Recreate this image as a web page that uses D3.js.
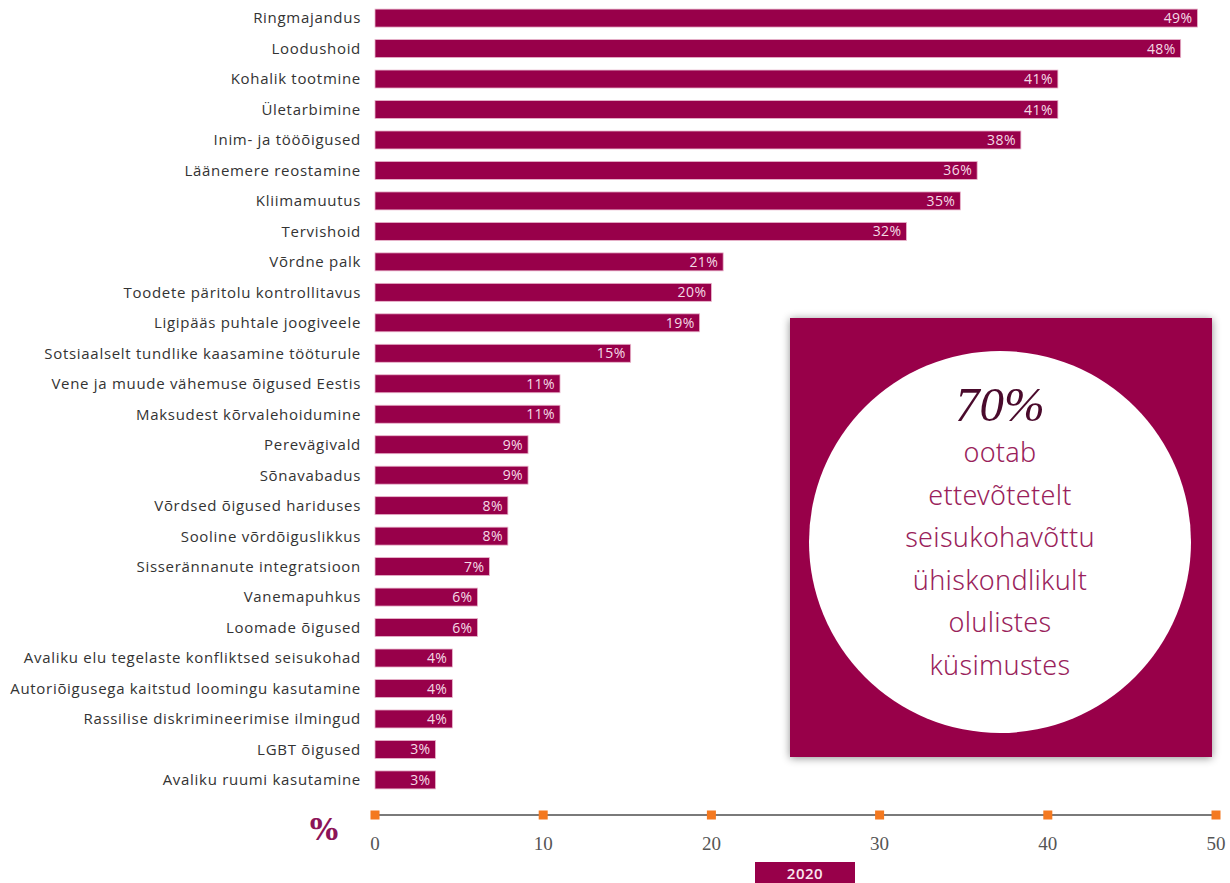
<!DOCTYPE html>
<html>
<head>
<meta charset="utf-8">
<script src="https://cdn.jsdelivr.net/npm/d3@7"></script>
<style>
  body { margin: 0; background: #fff; }
  svg { display: block; }
</style>
</head>
<body>
<div id="chart"></div>
<script>
var categories = ["Ringmajandus", "Loodushoid", "Kohalik tootmine", "Ületarbimine", "Inim- ja tööõigused",
    "Läänemere reostamine", "Kliimamuutus", "Tervishoid", "Võrdne palk", "Toodete päritolu kontrollitavus",
    "Ligipääs puhtale joogiveele", "Sotsiaalselt tundlike kaasamine tööturule", "Vene ja muude vähemuse õigused Eestis",
    "Maksudest kõrvalehoidumine", "Perevägivald", "Sõnavabadus", "Võrdsed õigused hariduses", "Sooline võrdõiguslikkus",
    "Sisserännanute integratsioon", "Vanemapuhkus", "Loomade õigused", "Avaliku elu tegelaste konfliktsed seisukohad",
    "Autoriõigusega kaitstud loomingu kasutamine", "Rassilise diskrimineerimise ilmingud", "LGBT õigused", "Avaliku ruumi kasutamine"];
var values = [48.9, 47.9, 40.6, 40.6, 38.4, 35.8, 34.8, 31.6, 20.7, 20.0, 19.3, 15.2, 11.0, 11.0, 9.1, 9.1,
    7.9, 7.9, 6.8, 6.1, 6.1, 4.6, 4.6, 4.6, 3.6, 3.6];
var valueLabels = ["49%", "48%", "41%", "41%", "38%", "36%", "35%", "32%", "21%", "20%", "19%", "15%", "11%", "11%",
    "9%", "9%", "8%", "8%", "7%", "6%", "6%", "4%", "4%", "4%", "3%", "3%"];
var tickValues = [0, 10, 20, 30, 40, 50];
var seriesName = "2020";
var calloutBig = "70%";
var calloutLines = ["ootab", "ettevõtetelt", "seisukohavõttu", "ühiskondlikult", "olulistes", "küsimustes"];

var W = 1230, H = 883;
var purple = "#98004a";

var svg = d3.select("#chart").append("svg")
    .attr("width", W)
    .attr("height", H);

var defs = svg.append("defs");
var shadow = defs.append("filter").attr("id", "shadow")
    .attr("x", "-10%").attr("y", "-10%").attr("width", "120%").attr("height", "120%");
shadow.append("feDropShadow")
    .attr("dx", 0).attr("dy", 1).attr("stdDeviation", 4)
    .attr("flood-color", "#000").attr("flood-opacity", 0.45);

var x = d3.scaleLinear().domain([0, 50]).range([375, 1216]);
var y = d3.scaleBand()
    .domain(categories)
    .range([3, 795])
    .paddingInner(0.41)
    .paddingOuter(0.2);

// bars
svg.selectAll(".bar")
    .data(values)
    .enter().append("rect")
    .attr("class", "bar")
    .attr("x", x(0))
    .attr("y", function (d, i) { return y(categories[i]); })
    .attr("width", function (d) { return x(d) - x(0); })
    .attr("height", y.bandwidth())
    .attr("fill", purple)
    .attr("stroke", "#e9b6cc")
    .attr("stroke-width", 0.8);

// value labels inside bars
svg.selectAll(".value")
    .data(values)
    .enter().append("text")
    .attr("class", "value")
    .attr("x", function (d) { return x(d) - 5; })
    .attr("y", function (d, i) { return y(categories[i]) + y.bandwidth() / 2; })
    .attr("dy", "0.36em")
    .attr("text-anchor", "end")
    .attr("font-family", "'Open Sans', sans-serif")
    .attr("font-size", 14)
    .attr("letter-spacing", 0.4)
    .attr("fill", "#f4dbe6")
    .text(function (d, i) { return valueLabels[i]; });

// category names
svg.selectAll(".name")
    .data(categories)
    .enter().append("text")
    .attr("class", "name")
    .attr("x", 361)
    .attr("y", function (d) { return y(d) + y.bandwidth() / 2; })
    .attr("dy", "0.36em")
    .attr("text-anchor", "end")
    .attr("font-family", "'Open Sans', sans-serif")
    .attr("font-size", 15)
    .attr("letter-spacing", 0.7)
    .attr("fill", "#333")
    .text(function (d) { return d; });

// x axis
var axisY = 815;
svg.append("line")
    .attr("x1", x(0)).attr("x2", x(50))
    .attr("y1", axisY).attr("y2", axisY)
    .attr("stroke", "#7a7a7a")
    .attr("stroke-width", 2);

svg.selectAll(".tickmark")
    .data(tickValues)
    .enter().append("rect")
    .attr("class", "tickmark")
    .attr("x", function (d) { return x(d) - 4.5; })
    .attr("y", axisY - 4.5)
    .attr("width", 9)
    .attr("height", 9)
    .attr("fill", "#f47920");

svg.selectAll(".ticklabel")
    .data(tickValues)
    .enter().append("text")
    .attr("class", "ticklabel")
    .attr("x", function (d) { return x(d); })
    .attr("y", 850)
    .attr("text-anchor", "middle")
    .attr("font-family", "'Liberation Serif', serif")
    .attr("font-size", 19)
    .attr("fill", "#555")
    .text(function (d) { return d; });

svg.append("text")
    .attr("x", 324)
    .attr("y", 840)
    .attr("text-anchor", "middle")
    .attr("font-family", "'DejaVu Serif', serif")
    .attr("font-weight", "bold")
    .attr("font-size", 30)
    .attr("fill", "#8c1458")
    .text("%");

// legend
svg.append("rect")
    .attr("x", 755).attr("y", 862)
    .attr("width", 100).attr("height", 24)
    .attr("fill", purple);
svg.append("text")
    .attr("x", 805).attr("y", 874)
    .attr("dy", "0.36em")
    .attr("text-anchor", "middle")
    .attr("font-family", "'Open Sans', sans-serif")
    .attr("font-size", 15)
    .attr("font-weight", 600)
    .attr("letter-spacing", 0.5)
    .attr("fill", "#fbe6ef")
    .text(seriesName);

// callout box
var box = svg.append("g");
box.append("rect")
    .attr("x", 790).attr("y", 318)
    .attr("width", 422).attr("height", 439)
    .attr("fill", purple)
    .attr("filter", "url(#shadow)");
box.append("circle")
    .attr("cx", 1000).attr("cy", 542)
    .attr("r", 191)
    .attr("fill", "#fff");
box.append("text")
    .attr("x", 1000).attr("y", 421)
    .attr("text-anchor", "middle")
    .attr("font-family", "'Liberation Serif', serif")
    .attr("font-style", "italic")
    .attr("font-size", 49)
    .attr("fill", "#4a0a2c")
    .text(calloutBig);
box.selectAll(".cline")
    .data(calloutLines)
    .enter().append("text")
    .attr("class", "cline")
    .attr("x", 1000)
    .attr("y", function (d, i) { return 462 + i * 42.6; })
    .attr("text-anchor", "middle")
    .attr("font-family", "'Noto Sans', sans-serif")
    .attr("font-weight", 300)
    .attr("font-size", 27)
    .attr("letter-spacing", 0.3)
    .attr("fill", "#9a1f5c")
    .text(function (d) { return d; });
</script>
</body>
</html>
